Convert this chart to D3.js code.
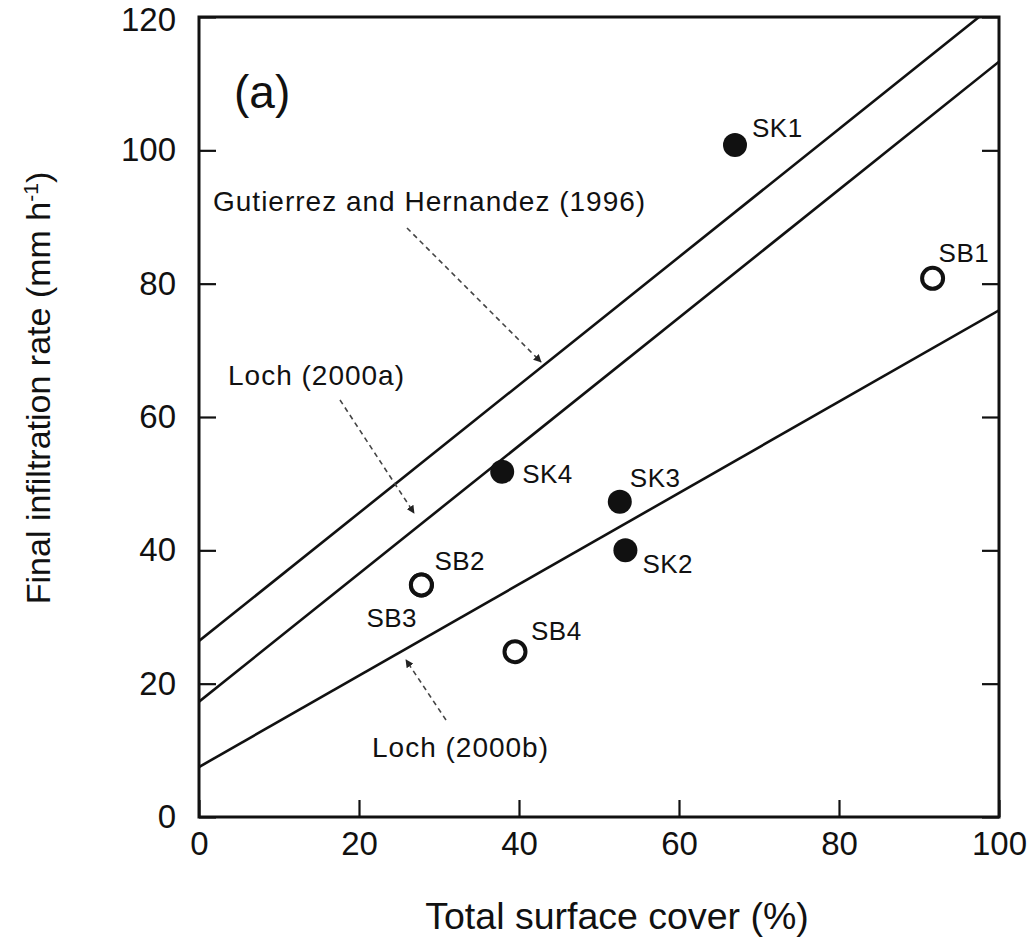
<!DOCTYPE html>
<html>
<head>
<meta charset="utf-8">
<script src="https://cdn.jsdelivr.net/npm/d3@7"></script>
<style>
	body { margin: 0; background: #fff; }
	svg text { font-family: "Liberation Sans", Arial, Helvetica, sans-serif; fill: #111; }
	.frame { fill: none; stroke: #111; stroke-width: 3; }
	.fit-line { fill: none; stroke: #111; stroke-width: 2.6; }
	.pointer { stroke: #444; stroke-width: 1.6; stroke-dasharray: 5 4; fill: none; }
</style>
</head>
<body>
<svg id="plot" width="1035" height="941" viewBox="0 0 1035 941"></svg>
<script>

// ---- data ----
const site_names = ["SK1", "SK2", "SK3", "SK4", "SB1", "SB2", "SB3", "SB4"];
const surface_cover = [67.0, 53.3, 52.6, 37.9, 91.7, 27.8, 27.8, 39.5];
const infiltration = [100.8, 40.0, 47.3, 51.8, 80.8, 34.8, 34.8, 24.8];
const is_open = [false, false, false, false, true, true, true, true];

// fitted relations, as end points [cover, rate]
const line_names = ["Gutierrez and Hernandez (1996)", "Loch (2000a)", "Loch (2000b)"];
const line_start = [[0, 26.4], [0, 17.3], [0, 7.5]];
const line_end = [[100, 122.4], [100, 113.3], [100, 76.0]];

const x_ticks = [0, 20, 40, 60, 80, 100];
const y_ticks = [0, 20, 40, 60, 80, 100, 120];

const svg = d3.select("#plot");

const x = d3.scaleLinear().domain([0, 100]).range([199, 999]);
const y = d3.scaleLinear().domain([0, 120]).range([817, 17]);

const tick_len = 17;

// clip so the lines stop at the frame
svg.append("defs").append("clipPath")
	.attr("id", "plot-clip")
	.append("rect")
	.attr("x", x(0)).attr("y", y(120))
	.attr("width", x(100) - x(0)).attr("height", y(0) - y(120));

// arrow head for the pointers
svg.select("defs").append("marker")
	.attr("id", "head")
	.attr("viewBox", "0 0 10 10")
	.attr("refX", 9).attr("refY", 5)
	.attr("markerWidth", 8).attr("markerHeight", 8)
	.attr("markerUnits", "userSpaceOnUse")
	.attr("orient", "auto")
	.append("path")
	.attr("d", "M0,0 L10,5 L0,10 z")
	.style("fill", "#222");

// axes: ticks pointing inward
const x_axis = d3.axisBottom(x).tickValues(x_ticks).tickSize(-tick_len).tickPadding(15).tickFormat(d3.format("d"));
const y_axis = d3.axisLeft(y).tickValues(y_ticks).tickSize(-tick_len).tickPadding(23).tickFormat(d3.format("d"));
const y_axis_right = d3.axisRight(y).tickValues(y_ticks).tickSize(-tick_len).tickFormat("");

function styleAxis(g) {
	g.select(".domain").remove();
	g.selectAll(".tick line").style("stroke", "#111").style("stroke-width", 2.2);
	g.selectAll(".tick text").style("font-size", "33px").style("fill", "#111")
		.style("font-family", "'Liberation Sans', Arial, sans-serif");
}

svg.append("g").attr("transform", "translate(0," + y(0) + ")").call(x_axis).call(styleAxis);
const y_g = svg.append("g").attr("transform", "translate(" + x(0) + ",0)").call(y_axis).call(styleAxis);
// top label sits against the page edge, nudge it down a little
y_g.selectAll(".tick").filter(d => d === 120).select("text").attr("dy", "0.42em");
svg.append("g").attr("transform", "translate(" + x(100) + ",0)").call(y_axis_right).call(styleAxis);

// frame
svg.append("rect")
	.attr("class", "frame")
	.attr("x", x(0)).attr("y", y(120))
	.attr("width", x(100) - x(0)).attr("height", y(0) - y(120));

// fitted lines
const line_data = line_names.map((name, i) => ({ name: name, p0: line_start[i], p1: line_end[i] }));
svg.append("g").attr("clip-path", "url(#plot-clip)")
	.selectAll("line")
	.data(line_data)
	.enter()
	.append("line")
	.attr("class", "fit-line")
	.attr("x1", d => x(d.p0[0])).attr("y1", d => y(d.p0[1]))
	.attr("x2", d => x(d.p1[0])).attr("y2", d => y(d.p1[1]));

// sites
const sites = site_names.map((name, i) => ({ name: name, cover: surface_cover[i], rate: infiltration[i], open: is_open[i] }));

svg.selectAll("circle.site")
	.data(sites)
	.enter()
	.append("circle")
	.attr("class", "site")
	.attr("cx", d => x(d.cover))
	.attr("cy", d => y(d.rate))
	.attr("r", d => d.open ? 10.5 : 12)
	.style("fill", d => d.open ? "#fff" : "#111")
	.style("stroke", "#111")
	.style("stroke-width", d => d.open ? 4 : 0);

// label offsets (px) from each point, as placed in the figure
const label_dx = { SK1: 17, SK2: 17, SK3: 10, SK4: 20, SB1: 6, SB2: 13, SB3: -55, SB4: 16 };
const label_dy = { SK1: -8, SK2: 23, SK3: -15, SK4: 11, SB1: -16, SB2: -15, SB3: 42, SB4: -12 };

svg.selectAll("text.site-label")
	.data(sites)
	.enter()
	.append("text")
	.attr("class", "site-label")
	.attr("x", d => x(d.cover) + label_dx[d.name])
	.attr("y", d => y(d.rate) + label_dy[d.name])
	.style("font-size", "26px")
	.style("letter-spacing", "0.5px")
	.text(d => d.name);

// annotations with pointers
svg.append("text").attr("x", 234).attr("y", 108).style("font-size", "46px").text("(a)");

const notes = [
	{ text: line_names[0], tx: 213, ty: 211, from: [407, 228], to: [541, 362] },
	{ text: line_names[1], tx: 228, ty: 385, from: [340, 400], to: [414, 513] },
	{ text: line_names[2], tx: 372, ty: 757, from: [446, 720], to: [406, 660] }
];

svg.selectAll("text.note")
	.data(notes)
	.enter()
	.append("text")
	.attr("class", "note")
	.attr("x", d => d.tx).attr("y", d => d.ty)
	.style("font-size", "28px")
	.style("letter-spacing", "1px")
	.text(d => d.text);

svg.selectAll("line.pointer")
	.data(notes)
	.enter()
	.append("line")
	.attr("class", "pointer")
	.attr("x1", d => d.from[0]).attr("y1", d => d.from[1])
	.attr("x2", d => d.to[0]).attr("y2", d => d.to[1])
	.attr("marker-end", "url(#head)");

// axis titles
svg.append("text")
	.attr("x", 617).attr("y", 929)
	.attr("text-anchor", "middle")
	.style("font-size", "37.5px")
	.text("Total surface cover (%)");

const y_title = svg.append("text")
	.attr("transform", "translate(50,388) rotate(-90)")
	.attr("text-anchor", "middle")
	.style("font-size", "34px");
y_title.append("tspan").text("Final infiltration rate (mm h");
y_title.append("tspan").attr("dy", -12).style("font-size", "21px").text("-1");
y_title.append("tspan").attr("dy", 12).text(")");

</script>
</body>
</html>
